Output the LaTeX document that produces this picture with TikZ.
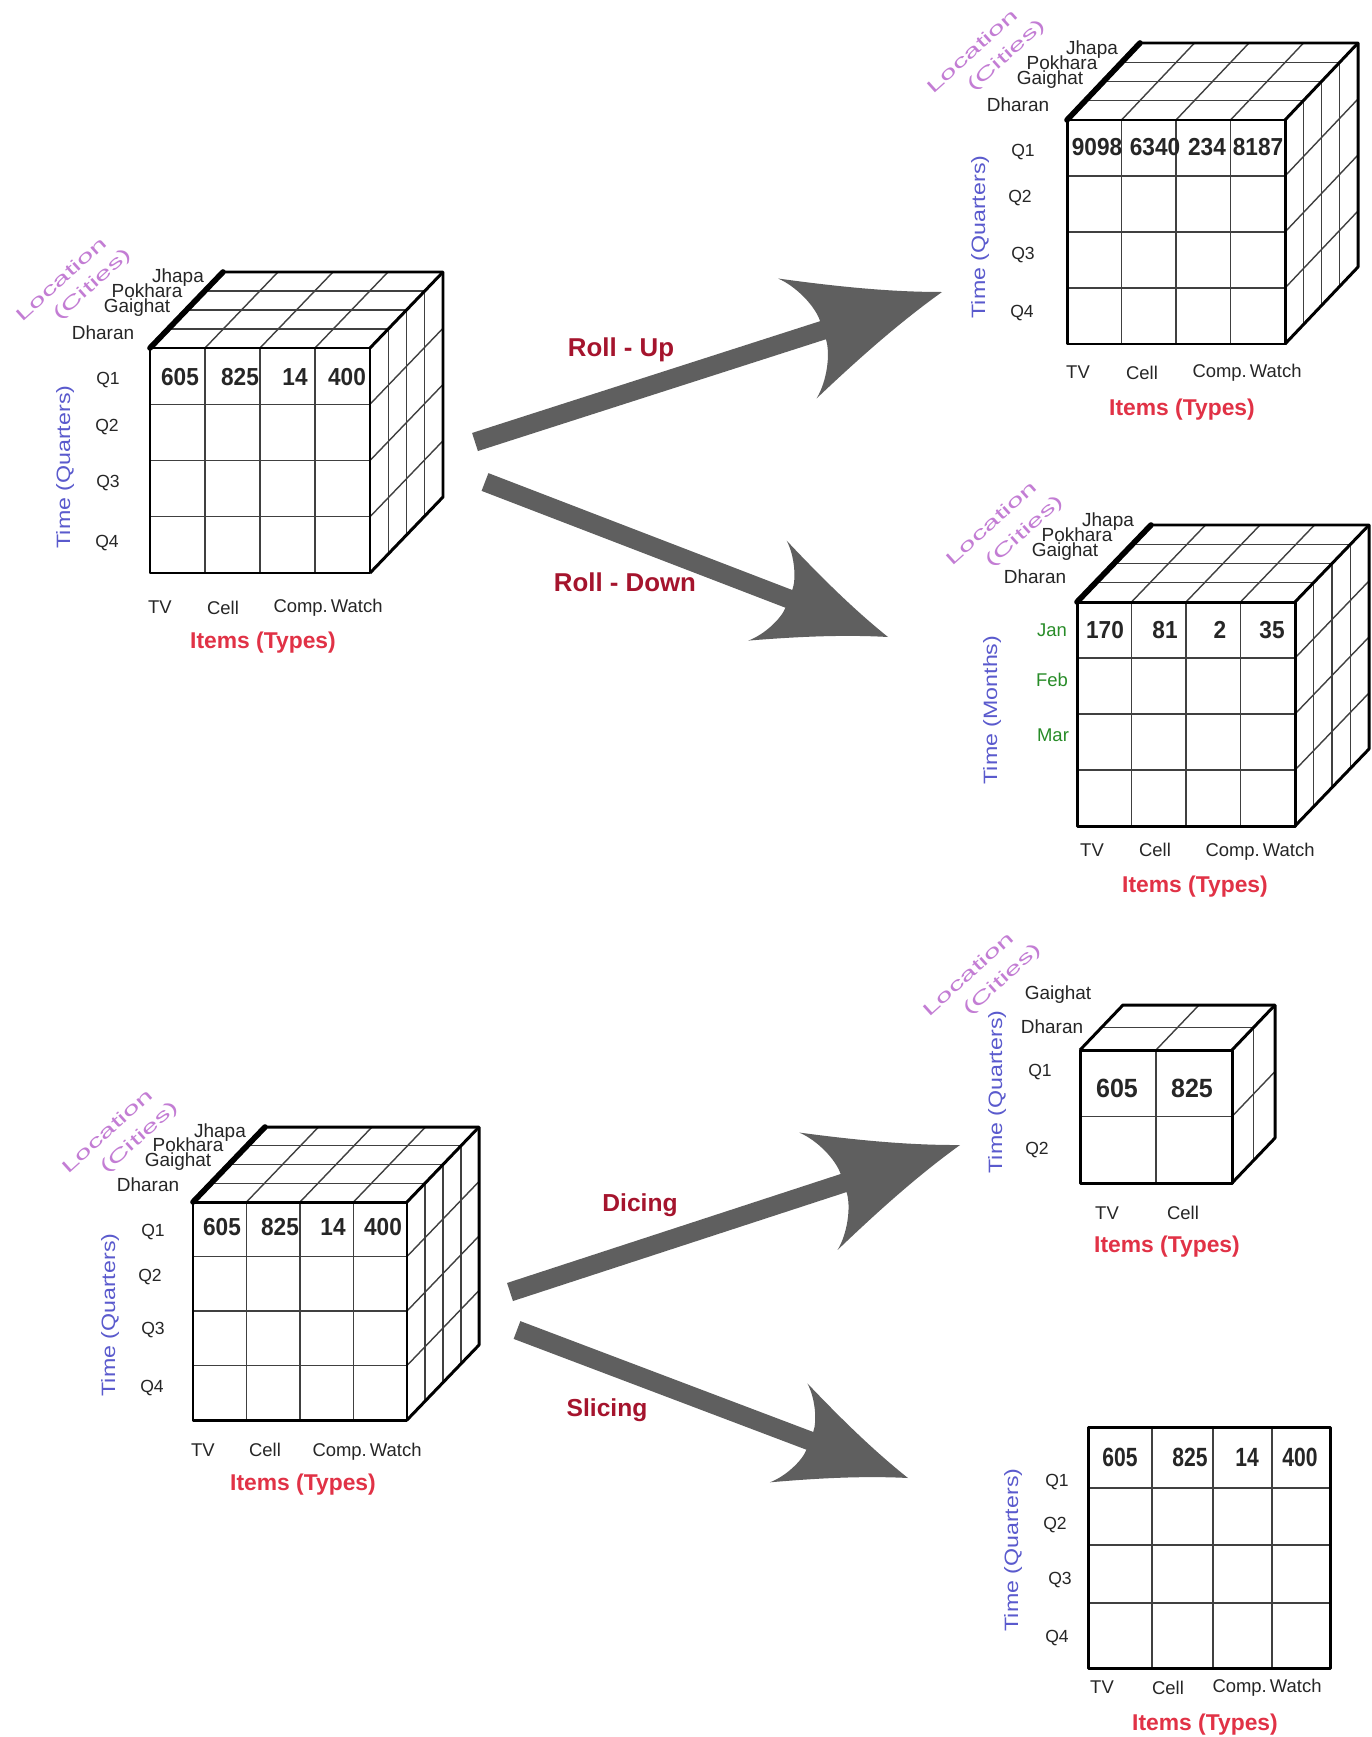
\documentclass[tikz,border=0pt]{standalone}
\usepackage{fontspec}
\usepackage{graphicx}
\setmainfont{Liberation Sans}
\usetikzlibrary{calc}

\definecolor{timeblue}{RGB}{90,90,205}
\definecolor{itemred}{RGB}{225,50,70}
\definecolor{opred}{RGB}{165,20,45}
\definecolor{monthgreen}{RGB}{40,140,40}
\definecolor{locpurple}{RGB}{195,125,212}
\definecolor{arrowgray}{RGB}{95,95,95}

\tikzset{
  gridln/.style={draw=black!75, line width=0.8pt},
  edge/.style={draw=black, line width=1.7pt, line join=round},
  boldedge/.style={draw=black, line width=3.2pt, line cap=round},
  city/.style={font=\fontsize{10.8}{12}\selectfont, text=black!85, inner sep=0pt},
  dimlbl/.style={font=\fontsize{10}{12}\selectfont, text=black!85, inner sep=0pt},
  itemlbl/.style={font=\fontsize{10.5}{12}\selectfont, text=black!85, inner sep=0pt},
  month/.style={font=\fontsize{10.5}{12}\selectfont, text=monthgreen, inner sep=0pt},
  num/.style={font=\bfseries\fontsize{14}{16}\selectfont, text=black!85, inner sep=0pt},
  timeax/.style={font=\fontsize{11}{12}\selectfont, text=timeblue, rotate=90, inner sep=0pt},
  itemax/.style={font=\bfseries\fontsize{13}{14}\selectfont, text=itemred, inner sep=0pt},
  locax/.style={font=\fontsize{10}{11}\selectfont, text=locpurple, rotate=42, inner sep=0pt},
  opname/.style={font=\bfseries\fontsize{14.7}{16}\selectfont, text=opred, inner sep=0pt},
}

% bold condensed cell value
\newcommand\cellnum[2][0.92]{\scalebox{#1}[1]{#2}}
% widely set axis caption for the location dimension
\newcommand\loctext[1]{\scalebox{1.75}[1]{#1}}

% data cube: #1,#2 front top-left corner, #3 width, #4 height,
% #5,#6 depth offset, #7 cells per edge
\newcommand\datacube[7]{%
  \begin{scope}[shift={(#1,#2)}]
    \pgfmathsetmacro\cw{#3/#7}\pgfmathsetmacro\ch{#4/#7}
    \pgfmathsetmacro\ddx{#5/#7}\pgfmathsetmacro\ddy{#6/#7}
    \pgfmathtruncatemacro\cuben{#7-1}
    \fill[white] (0,0) -- (#5,#6) -- (#3+#5,#6) -- (#3+#5,#4+#6) -- (#3,#4) -- (0,#4) -- cycle;
    \foreach \i in {1,...,\cuben}{
      \draw[gridln] (\i*\cw,0) -- (\i*\cw,#4);
      \draw[gridln] (0,\i*\ch) -- (#3,\i*\ch);
      \draw[gridln] (\i*\ddx,\i*\ddy) -- (#3+\i*\ddx,\i*\ddy);
      \draw[gridln] (\i*\cw,0) -- (\i*\cw+#5,#6);
      \draw[gridln] (#3+\i*\ddx,\i*\ddy) -- (#3+\i*\ddx,#4+\i*\ddy);
      \draw[gridln] (#3,\i*\ch) -- (#3+#5,\i*\ch+#6);
    }
    \draw[edge] (0,0) rectangle (#3,#4);
    \draw[edge] (0,0) -- (#5,#6) -- (#3+#5,#6) -- (#3+#5,#4+#6) -- (#3,#4);
    \draw[edge] (#3,0) -- (#3+#5,#6);
  \end{scope}}

% broad arrow with a swept-back head: #1 head scale, #2 start, #3 tip
\newcommand\fatarrow[3]{%
  \fill[arrowgray] let \p1=($(#3)-(#2)$), \n1={atan2(\y1,\x1)} in
    ($(#2)+(\n1+90:0.19cm)$) -- ($(#3)+(\n1:-#1*2.5cm)+(\n1+90:0.19cm)$)
    .. controls ($(#3)+(\n1:-#1*2.5cm)+(\n1+90:#1*0.5cm)$) and ($(#3)+(\n1:-#1*2.74cm)+(\n1+90:#1*1.0cm)$) ..
    ($(#3)+(\n1:-#1*3.04cm)+(\n1+90:#1*1.26cm)$)
    .. controls ($(#3)+(\n1:-#1*2.0cm)+(\n1+90:#1*0.76cm)$) and ($(#3)+(\n1:-#1*1.0cm)+(\n1+90:#1*0.32cm)$) ..
    (#3)
    .. controls ($(#3)+(\n1:-#1*1.0cm)+(\n1-90:#1*0.32cm)$) and ($(#3)+(\n1:-#1*2.0cm)+(\n1-90:#1*0.76cm)$) ..
    ($(#3)+(\n1:-#1*3.04cm)+(\n1-90:#1*1.26cm)$)
    .. controls ($(#3)+(\n1:-#1*2.74cm)+(\n1-90:#1*1.0cm)$) and ($(#3)+(\n1:-#1*2.5cm)+(\n1-90:#1*0.5cm)$) ..
    ($(#3)+(\n1:-#1*2.5cm)+(\n1-90:0.19cm)$) -- ($(#2)+(\n1-90:0.19cm)$) -- cycle;}

\begin{document}
\begin{tikzpicture}[x=0.02cm, y=-0.02cm]
\useasboundingbox (0,0) rectangle (1372,1737);
\fill[white] (0,0) rectangle (1372,1737);

% ---------- source cube (top) ----------
\datacube{150}{348}{220}{225}{73}{-76}{4}
\draw[boldedge] (150,348) -- ++(73,-76);
\node[locax] (aloc) at (61,279) {\loctext{Location}};
\node[locax] (acit) at (93,285) {\loctext{(Cities)}};
\node[city] (ajh) at (178,278) {Jhapa};
\node[city] (apo) at (147,291) {Pokhara};
\node[city] (aga) at (137,308) {Gaighat};
\node[city] (adh) at (103,333) {Dharan};
\node[dimlbl] (aq1) at (108,380) {Q1};
\node[dimlbl] (aq2) at (107,427) {Q2};
\node[dimlbl] (aq3) at (108,483) {Q3};
\node[dimlbl] (aq4) at (107,543) {Q4};
\node[timeax] (atime) at (65,467) {\scalebox{1.2}[1]{Time (Quarters)}};
\node[itemlbl] (atv) at (160,607) {TV};
\node[itemlbl] (acell) at (223,608) {Cell};
\node[itemlbl] (acw) at (328,608) {Comp.\,Watch};
\node[itemax] (aitems) at (263,643) {Items (Types)};
\node[num] (an1) at (180,377) {\cellnum{605}};
\node[num] (an2) at (240,377) {\cellnum{825}};
\node[num] (an3) at (295,377) {\cellnum{14}};
\node[num] (an4) at (347,377) {\cellnum{400}};

% ---------- roll-up result ----------
\datacube{1067}{120}{218}{224}{73}{-77}{4}
\draw[boldedge] (1067,120) -- ++(73,-77);
\node[locax] (bloc) at (972,51) {\loctext{Location}};
\node[locax] (bcit) at (1007,56) {\loctext{(Cities)}};
\node[city] (bjh) at (1092,50) {Jhapa};
\node[city] (bpo) at (1062,63) {Pokhara};
\node[city] (bga) at (1050,80) {Gaighat};
\node[city] (bdh) at (1018,105) {Dharan};
\node[dimlbl] (bq1) at (1023,152) {Q1};
\node[dimlbl] (bq2) at (1020,198) {Q2};
\node[dimlbl] (bq3) at (1023,255) {Q3};
\node[dimlbl] (bq4) at (1022,313) {Q4};
\node[timeax] (btime) at (980,237) {\scalebox{1.2}[1]{Time (Quarters)}};
\node[itemlbl] (btv) at (1078,372) {TV};
\node[itemlbl] (bcell) at (1142,373) {Cell};
\node[itemlbl] (bcw) at (1247,373) {Comp.\,Watch};
\node[itemax] (bitems) at (1182,410) {Items (Types)};
\node[num] (bn1) at (1097,147) {\cellnum{9098}};
\node[num] (bn2) at (1155,147) {\cellnum{6340}};
\node[num] (bn3) at (1207,147) {\cellnum{234}};
\node[num] (bn4) at (1258,147) {\cellnum{8187}};

% ---------- roll-down result ----------
\datacube{1077}{602}{218}{224}{74}{-77}{4}
\draw[boldedge] (1077,602) -- ++(74,-77);
\node[locax] (cloc) at (991,523) {\loctext{Location}};
\node[locax] (ccit) at (1025,532) {\loctext{(Cities)}};
\node[city] (cjh) at (1108,522) {Jhapa};
\node[city] (cpo) at (1077,535) {Pokhara};
\node[city] (cga) at (1065,552) {Gaighat};
\node[city] (cdh) at (1035,577) {Dharan};
\node[month] (cjan) at (1052,630) {Jan};
\node[month] (cfeb) at (1052,680) {Feb};
\node[month] (cmar) at (1053,735) {Mar};
\node[timeax] (ctime) at (992,710) {\scalebox{1.2}[1]{Time (Months)}};
\node[itemlbl] (ctv) at (1092,850) {TV};
\node[itemlbl] (ccell) at (1155,850) {Cell};
\node[itemlbl] (ccw) at (1260,852) {Comp.\,Watch};
\node[itemax] (citems) at (1195,887) {Items (Types)};
\node[num] (cn1) at (1105,630) {\cellnum{170}};
\node[num] (cn2) at (1165,630) {\cellnum{81}};
\node[num] (cn3) at (1220,630) {\cellnum{2}};
\node[num] (cn4) at (1272,630) {\cellnum{35}};

% ---------- source cube (bottom) ----------
\datacube{193}{1202}{214}{218}{72}{-75}{4}
\draw[boldedge] (193,1202) -- ++(72,-75);
\node[locax] (dloc) at (107,1131) {\loctext{Location}};
\node[locax] (dcit) at (140,1138) {\loctext{(Cities)}};
\node[city] (djh) at (220,1133) {Jhapa};
\node[city] (dpo) at (188,1145) {Pokhara};
\node[city] (dga) at (178,1162) {Gaighat};
\node[city] (ddh) at (148,1185) {Dharan};
\node[dimlbl] (dq1) at (153,1232) {Q1};
\node[dimlbl] (dq2) at (150,1277) {Q2};
\node[dimlbl] (dq3) at (153,1330) {Q3};
\node[dimlbl] (dq4) at (152,1388) {Q4};
\node[timeax] (dtime) at (110,1315) {\scalebox{1.2}[1]{Time (Quarters)}};
\node[itemlbl] (dtv) at (203,1450) {TV};
\node[itemlbl] (dcell) at (265,1450) {Cell};
\node[itemlbl] (dcw) at (367,1452) {Comp.\,Watch};
\node[itemax] (ditems) at (303,1485) {Items (Types)};
\node[num] (dn1) at (222,1227) {\cellnum{605}};
\node[num] (dn2) at (280,1227) {\cellnum{825}};
\node[num] (dn3) at (333,1227) {\cellnum{14}};
\node[num] (dn4) at (383,1227) {\cellnum{400}};

% ---------- dicing result ----------
\datacube{1080}{1050}{152}{133}{43}{-45}{2}
\node[locax] (eloc) at (968,974) {\loctext{Location}};
\node[locax] (ecit) at (1003,980) {\loctext{(Cities)}};
\node[city] (ega) at (1058,995) {Gaighat};
\node[city] (edh) at (1052,1027) {Dharan};
\node[dimlbl] (eq1) at (1040,1072) {Q1};
\node[dimlbl] (eq2) at (1037,1150) {Q2};
\node[timeax] (etime) at (997,1092) {\scalebox{1.2}[1]{Time (Quarters)}};
\node[itemlbl] (etv) at (1107,1213) {TV};
\node[itemlbl] (ecell) at (1183,1213) {Cell};
\node[itemax] (eitems) at (1167,1247) {Items (Types)};
\node[num, font=\bfseries\fontsize{15}{16}\selectfont] (en1) at (1117,1088) {\cellnum[0.95]{605}};
\node[num, font=\bfseries\fontsize{15}{16}\selectfont] (en2) at (1192,1088) {\cellnum[0.95]{825}};

% ---------- slicing result ----------
\foreach \gx in {1152,1213,1272} \draw[gridln] (\gx,1427) -- (\gx,1668);
\foreach \gy in {1488,1545,1603} \draw[gridln] (1088,\gy) -- (1330,\gy);
\draw[edge] (1088,1427) rectangle (1330,1668);
\node[dimlbl] (fq1) at (1057,1482) {Q1};
\node[dimlbl] (fq2) at (1055,1525) {Q2};
\node[dimlbl] (fq3) at (1060,1580) {Q3};
\node[dimlbl] (fq4) at (1057,1638) {Q4};
\node[timeax] (ftime) at (1013,1550) {\scalebox{1.2}[1]{Time (Quarters)}};
\node[itemlbl] (ftv) at (1102,1687) {TV};
\node[itemlbl] (fcell) at (1168,1688) {Cell};
\node[itemlbl] (fcw) at (1267,1688) {Comp.\,Watch};
\node[itemax] (fitems) at (1205,1725) {Items (Types)};
\node[num, font=\bfseries\fontsize{15}{16}\selectfont] (fn1) at (1120,1457) {\cellnum[0.8]{605}};
\node[num, font=\bfseries\fontsize{15}{16}\selectfont] (fn2) at (1190,1457) {\cellnum[0.8]{825}};
\node[num, font=\bfseries\fontsize{15}{16}\selectfont] (fn3) at (1247,1457) {\cellnum[0.8]{14}};
\node[num, font=\bfseries\fontsize{15}{16}\selectfont] (fn4) at (1300,1457) {\cellnum[0.8]{400}};

% ---------- operation arrows ----------
\coordinate (upS) at (475,442);   \coordinate (upT) at (942,292);
\coordinate (downS) at (485,482); \coordinate (downT) at (888,637);
\coordinate (diceS) at (510,1292); \coordinate (diceT) at (960,1145);
\coordinate (sliceS) at (517,1330); \coordinate (sliceT) at (908,1478);
\fatarrow{1}{upS}{upT}
\fatarrow{0.85}{downS}{downT}
\fatarrow{0.98}{diceS}{diceT}
\fatarrow{0.84}{sliceS}{sliceT}

\node[opname] (rollup) at (621,350) {Roll - Up};
\node[opname] (rolldown) at (625,582) {Roll - Down};
\node[opname, font=\bfseries\fontsize{14}{16}\selectfont] (dicing) at (640,1205) {Dicing};
\node[opname, font=\bfseries\fontsize{14}{16}\selectfont] (slicing) at (607,1410) {Slicing};
\end{tikzpicture}
\end{document}
